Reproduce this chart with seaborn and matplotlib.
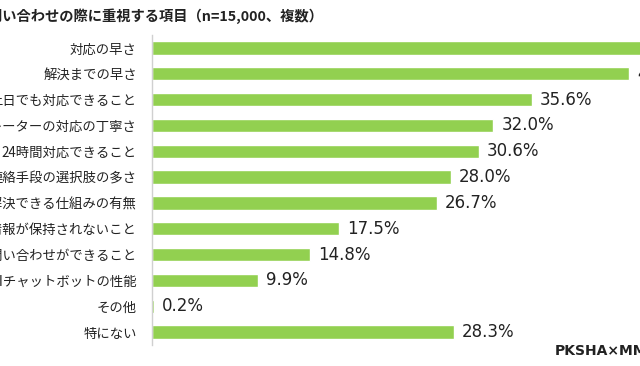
import matplotlib
matplotlib.use('Agg')
import matplotlib.pyplot as plt
import seaborn as sns
import pandas as pd

# データ（左右は元画像で切れている）
categories = [
    '対応の早さ',
    '解決までの早さ',
    '土日でも対応できること',
    'オペレーターの対応の丁寧さ',
    '24時間対応できること',
    '連絡手段の選択肢の多さ',
    '自己解決できる仕組みの有無',
    '個人情報が保持されないこと',
    '匿名で問い合わせができること',
    '生成AIチャットボットの性能',
    'その他',
    '特にない',
]
values = [50.8, 44.7, 35.6, 32.0, 30.6, 28.0, 26.7, 17.5, 14.8, 9.9, 0.2, 28.3]
title = '■カスタマーサポートへの問い合わせの際に重視する項目（n=15,000、複数）'
source = 'PKSHA×MMD研究所調べ'

df = pd.DataFrame({'item': categories, 'pct': values})

sns.set_theme(style='white')
plt.rcParams['font.family'] = ['Noto Sans CJK JP', 'DejaVu Sans']

W, H = 640, 366
fig = plt.figure(figsize=(W / 100, H / 100), dpi=100)
# 軸は右側にはみ出す（元画像のトリミングを再現）
ax_w = 700
ax = fig.add_axes([152 / W, 21 / H, ax_w / W, 310 / H])

sns.barplot(data=df, x='pct', y='item', color='#92D050', width=0.52,
            saturation=1, ax=ax)

px_per_pct = 10.67
ax.set_xlim(0, ax_w / px_per_pct)
ax.set_ylim(len(categories) - 0.5, -0.5)
ax.set_xlabel('')
ax.set_ylabel('')
ax.set_xticks([])
ax.tick_params(axis='y', length=0, pad=11, labelsize=9.6, labelcolor='#222222')
for s in ['top', 'right', 'bottom']:
    ax.spines[s].set_visible(False)
ax.spines['left'].set_color('#D0D0D0')
ax.spines['left'].set_linewidth(1.0)

for i, v in enumerate(values):
    ax.text(v + 0.75, i, f'{v:.1f}%', va='center', ha='left',
            fontsize=12, color='#222222', family=['DejaVu Sans'])

fig.text(323 / W, 1 - 16 / H, title, ha='right', va='center',
         fontsize=10.3, fontweight='bold', color='#222222')
fig.text(555 / W, 1 - 351 / H, source, ha='left', va='center',
         fontsize=10, fontweight='bold', color='#222222',
         family=['DejaVu Sans', 'Noto Sans CJK JP'])

fig.savefig('out.png', dpi=100)
